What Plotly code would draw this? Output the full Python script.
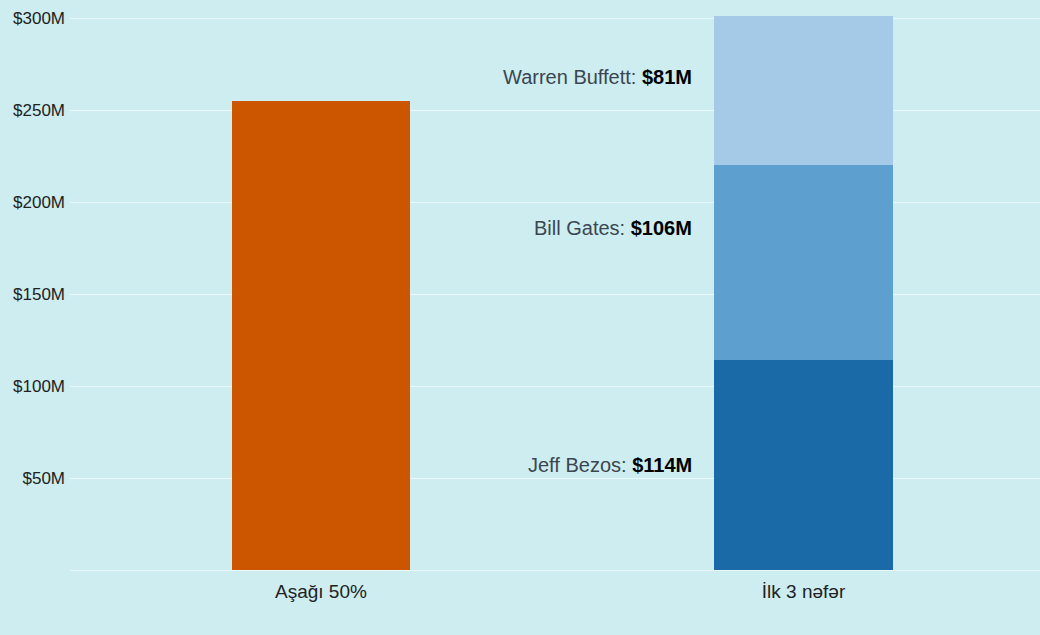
import plotly.graph_objects as go

# Categories and values (millions of USD)
categories = ["Aşağı 50%", "İlk 3 nəfər"]
bottom_half = [255]
people = ["Jeff Bezos", "Bill Gates", "Warren Buffett"]
person_values = [114, 106, 81]
person_colors = ["#1a6aa7", "#5d9fcf", "#a4cae8"]
tick_vals = [50, 100, 150, 200, 250, 300]
tick_text = ["$50M", "$100M", "$150M", "$200M", "$250M", "$300M"]

fig = go.Figure()

fig.add_trace(go.Bar(
    x=[categories[0]], y=bottom_half, width=0.37,
    marker=dict(color="#cc5500", line=dict(width=0)),
    showlegend=False, hoverinfo="skip",
))

for name, val, col in zip(people, person_values, person_colors):
    fig.add_trace(go.Bar(
        x=[categories[1]], y=[val], width=0.37, name=name,
        marker=dict(color=col, line=dict(width=0)),
        showlegend=False, hoverinfo="skip",
    ))

# Labels to the left of the stacked segments
label_y = [57, 186, 268]
for name, val, yy in zip(people, person_values, label_y):
    fig.add_annotation(
        x=categories[1], y=yy, xref="x", yref="y",
        xshift=-110, xanchor="right", yanchor="middle",
        text=f"{name}: <b><span style='color:#000000'>${val}M</span></b>",
        showarrow=False,
        font=dict(family="Liberation Sans, Arial", size=20, color="#3b4650"),
    )

fig.update_layout(
    barmode="stack",
    width=1040, height=635,
    margin=dict(l=70, r=0, t=0, b=65),
    paper_bgcolor="#cdedf0",
    plot_bgcolor="#cdedf0",
    font=dict(family="Liberation Sans, Arial", color="#222222"),
    xaxis=dict(
        range=[-0.52, 1.49], showgrid=False, zeroline=False,
        showline=False, ticks="", ticklabelstandoff=8,
        tickfont=dict(size=19, color="#222222"),
    ),
    yaxis=dict(
        range=[0, 309.8], tickvals=tick_vals, ticktext=tick_text,
        showgrid=True, gridcolor="#eaf8fa", gridwidth=1,
        zeroline=True, zerolinecolor="#eaf8fa", zerolinewidth=1,
        showline=False, ticks="", ticklen=0, ticklabelstandoff=4,
        tickfont=dict(size=17, color="#222222"),
    ),
)

fig.write_html("out.html")
